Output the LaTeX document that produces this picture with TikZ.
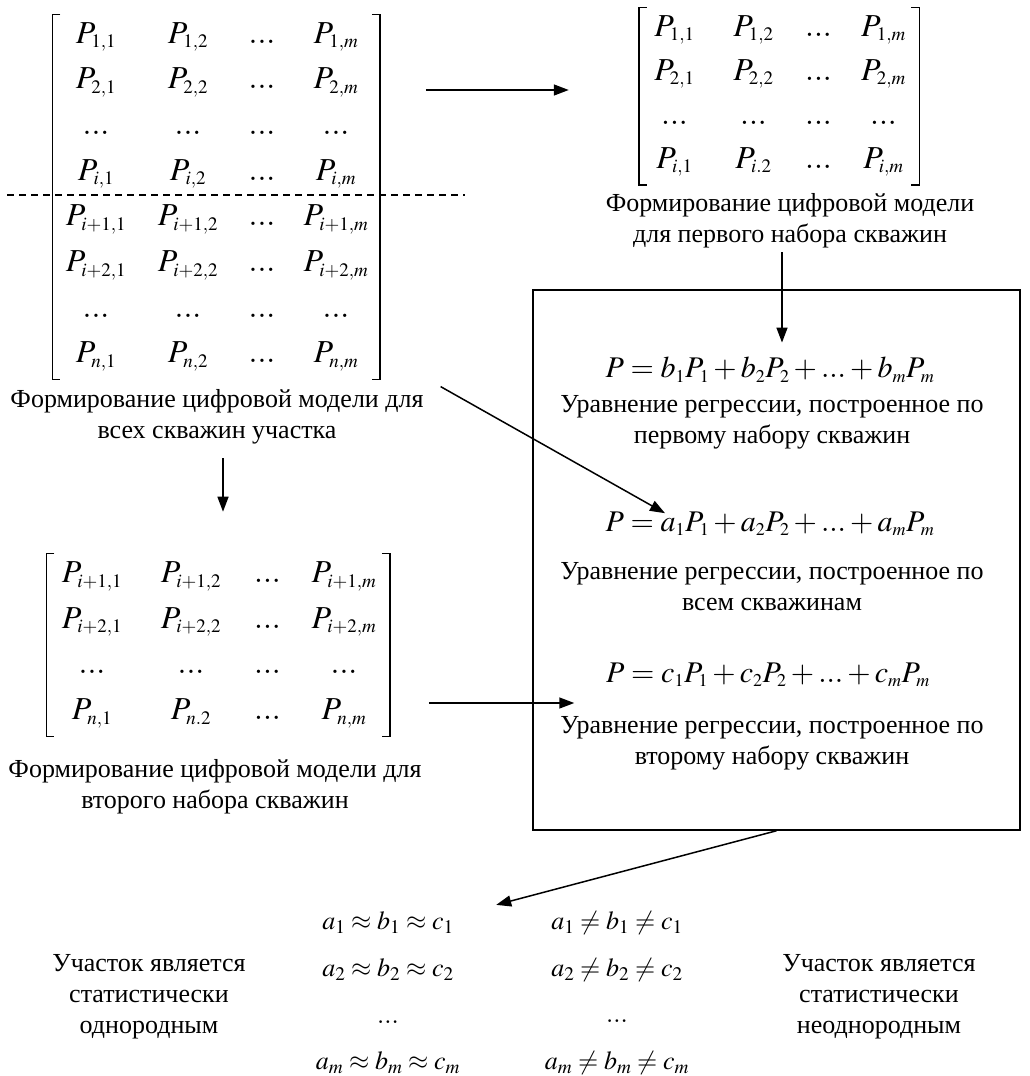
\documentclass[tikz,border=0pt]{standalone}
\usepackage{mathptmx}
\usepackage[no-math]{fontspec}
\setmainfont{Liberation Serif}
\usetikzlibrary{matrix,arrows.meta,calc}
\DeclareMathSizes{32}{32}{19}{14}
\DeclareMathSizes{30}{30}{18}{13}
\tikzset{arr/.style={-{Triangle[length=15pt,width=11pt]}},
  mat/.style n args={3}{matrix of math nodes, inner xsep=#3, inner ysep=0pt,
      column sep=#2,
      nodes={minimum width=#1, text height=28pt, text depth=16pt, inner sep=0pt,
        font=\fontsize{32}{38}\selectfont},
      column 3/.style={nodes={minimum width=30pt}}},
  txt/.style={align=center, font=\fontsize{26}{31}\selectfont},
  eq/.style={inner sep=0pt, font=\fontsize{30}{36}\selectfont}}
\newcommand{\brk}[1]{%
  \draw ([xshift=8pt]#1.north west) -- (#1.north west) -- (#1.south west)
    -- ([xshift=8pt]#1.south west);
  \draw ([xshift=-8pt]#1.north east) -- (#1.north east) -- (#1.south east)
    -- ([xshift=-8pt]#1.south east);}

\begin{document}
\begin{tikzpicture}[x=1pt, y=-1pt, line width=1.5pt]
  \useasboundingbox (0,0) rectangle (1029,1076);
  % matrices
  \matrix (mA) at (216,197) [mat={66pt}{26pt}{10pt}, row sep=1.7pt] {
    P_{1,1} & P_{1,2} & ... & P_{1,m} \\
    P_{2,1} & P_{2,2} & ... & P_{2,m} \\
    ... & ... & ... & ... \\
    P_{i,1} & P_{i,2} & ... & P_{i,m} \\
    P_{i+1,1} & P_{i+1,2} & ... & P_{i+1,m} \\
    P_{i+2,1} & P_{i+2,2} & ... & P_{i+2,m} \\
    ... & ... & ... & ... \\
    P_{n,1} & P_{n,2} & ... & P_{n,m} \\
  };
  \matrix (mB) at (779,96) [mat={58pt}{21pt}{6pt}, row sep=0pt] {
    P_{1,1} & P_{1,2} & ... & P_{1,m} \\
    P_{2,1} & P_{2,2} & ... & P_{2,m} \\
    ... & ... & ... & ... \\
    P_{i,1} & P_{i.2} & ... & P_{i,m} \\
  };
  \matrix (mC) at (218,645) [mat={75pt}{24pt}{7.5pt}, row sep=1.7pt] {
    P_{i+1,1} & P_{i+1,2} & ... & P_{i+1,m} \\
    P_{i+2,1} & P_{i+2,2} & ... & P_{i+2,m} \\
    ... & ... & ... & ... \\
    P_{n,1} & P_{n.2} & ... & P_{n,m} \\
  };
  \brk{mA}
  \brk{mB}
  \brk{mC}
  \draw[dash pattern=on 7pt off 5pt] ($(mA.west)+(-45,-2)$) -- ($(mA.east)+(85,-2)$);

  % captions
  \node[txt] (capA) at (217,417) {Формирование цифровой модели для\\всех скважин участка};
  \node[txt] (capB) at (790,221) {Формирование цифровой модели\\для первого набора скважин};
  \node[txt] (capC) at (215,787) {Формирование цифровой модели для\\второго набора скважин};

  % regression box
  \node[draw, minimum width=487pt, minimum height=540pt, inner sep=0pt] (box) at (776.5,560) {};
  \node[eq] (eqB) at (770,370) {$P=b_1P_1+b_2P_2+...+b_mP_m$};
  \node[txt] (txB) at (772,422) {Уравнение регрессии, построенное по\\первому набору скважин};
  \node[eq] (eqA) at (770,524) {$P=a_1P_1+a_2P_2+...+a_mP_m$};
  \node[txt] (txA) at (772,587) {Уравнение регрессии, построенное по\\всем скважинам};
  \node[eq] (eqC) at (768,675) {$P=c_1P_1+c_2P_2+...+c_mP_m$};
  \node[txt] (txC) at (772,743) {Уравнение регрессии, построенное по\\второму набору скважин};

  % conclusions
  \node[txt] (homT) at (149,997) {Участок является\\статистически\\однородным};
  \node[txt, font=\fontsize{26}{46.7}\selectfont] (homE) at (388,993)
    {$a_1\approx b_1\approx c_1$\\$a_2\approx b_2\approx c_2$\\$...$\\$a_m\approx b_m\approx c_m$};
  \node[txt, font=\fontsize{26}{46.7}\selectfont] (hetE) at (617,993)
    {$a_1\neq b_1\neq c_1$\\$a_2\neq b_2\neq c_2$\\$...$\\$a_m\neq b_m\neq c_m$};
  \node[txt] (hetT) at (879,997) {Участок является\\статистически\\неоднородным};

  % arrows
  \draw[arr] ($(mA.east |- mB.west)+(46,-6)$) -- ($(mB.west)+(-70,-6)$);
  \draw[arr] ($(capB.south)+(-8,0)$) -- ($(capB.south |- eqB.north)+(-8,-14)$);
  \draw[arr] ($(capA.south)+(6,10)$) -- ($(capA.south |- mC.north)+(6,-42)$);
  \draw[arr] ($(capA.north east)+(13,1)$) -- ($(eqA.north west)+(60,2)$);
  \draw[arr] ($(mC.east)+(39,58)$) -- ($(box.west |- mC.east)+(42,58)$);
  \draw[arr] (box.south) -- ($(homE.north east)+(32,-3)$);
\end{tikzpicture}
\end{document}
